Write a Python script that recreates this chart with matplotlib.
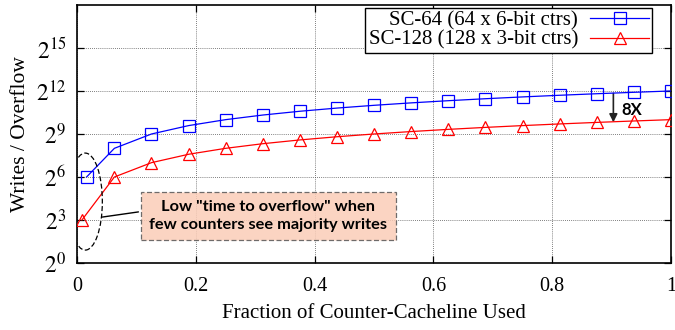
import matplotlib
matplotlib.use("Agg")
import matplotlib.pyplot as plt
from matplotlib.patches import Ellipse

# data (writes per overflow vs fraction of cacheline used)
sc64_x = [0.015625, 0.0625, 0.125, 0.1875, 0.25, 0.3125, 0.375, 0.4375, 0.5,
          0.5625, 0.625, 0.6875, 0.75, 0.8125, 0.875, 0.9375, 1.0]
sc64_y = [64, 256, 512, 768, 1024, 1280, 1536, 1792, 2048,
          2304, 2560, 2816, 3072, 3328, 3584, 3840, 4096]
sc128_x = [0.0078125, 0.0625, 0.125, 0.1875, 0.25, 0.3125, 0.375, 0.4375, 0.5,
           0.5625, 0.625, 0.6875, 0.75, 0.8125, 0.875, 0.9375, 1.0]
sc128_y = [8, 64, 128, 192, 256, 320, 384, 448, 512,
           576, 640, 704, 768, 832, 896, 960, 1024]
series_names = ["SC-64 (64 x 6-bit ctrs)", "SC-128 (128 x 3-bit ctrs)"]
x_ticks = [0, 0.2, 0.4, 0.6, 0.8, 1.0]
x_tick_labels = ["0", "0.2", "0.4", "0.6", "0.8", "1"]
y_exps = [0, 3, 6, 9, 12, 15]

plt.rcParams["font.family"] = ["Liberation Serif", "DejaVu Serif"]
plt.rcParams["mathtext.fontset"] = "stix"
plt.rcParams["font.size"] = 15

fig = plt.figure(figsize=(6.75, 3.3), dpi=100)
ax = fig.add_axes([0.1145, 0.203, 0.8795, 0.782])

ax.plot(sc64_x, sc64_y, color="#0000ff", lw=0.9, marker="s", ms=8.5, mfc="none",
        mec="#0000ff", mew=0.9, label=series_names[0], zorder=4)
ax.plot(sc128_x, sc128_y, color="#ff0000", lw=0.9, marker="^", ms=8.5, mfc="none",
        mec="#ff0000", mew=0.9, label=series_names[1], zorder=4)

ax.set_yscale("log", base=2)
ax.set_ylim(1, 2 ** 18)
ax.set_xlim(0, 1)
ax.set_yticks([2 ** e for e in y_exps])
ax.set_yticklabels(["$2^{%d}$" % e for e in y_exps], fontsize=17)
ax.yaxis.set_minor_locator(matplotlib.ticker.NullLocator())
ax.set_xticks(x_ticks)
ax.set_xticklabels(x_tick_labels, fontsize=14.5)
ax.tick_params(direction="in", top=True, right=True, length=5, width=0.9)
ax.tick_params(axis="x", pad=10)
ax.tick_params(axis="y", pad=8)
ax.grid(True, color="#555555", ls=(0, (1, 1.5)), lw=0.6)
for sp in ax.spines.values():
    sp.set_linewidth(1.2)

ax.set_xlabel("Fraction of Counter-Cacheline Used", fontsize=15, labelpad=6)
ax.set_ylabel("Writes / Overflow", fontsize=15.5, labelpad=4)

leg = ax.legend(loc="upper right", bbox_to_anchor=(0.968, 0.99), borderaxespad=0,
                markerfirst=False, fancybox=False, edgecolor="black", framealpha=1,
                handlelength=2.8, borderpad=0.15, labelspacing=0.0, handletextpad=0.6,
                fontsize=15)
leg.get_frame().set_linewidth(1.0)

# annotation: ellipse around the first points + note box
ell = Ellipse((0.0135, 0.238), 0.0574, 0.376, transform=ax.transAxes, fill=False,
              ls=(0, (4, 2)), lw=0.9, color="black", zorder=5)
ax.add_patch(ell)
ax.annotate("", xy=(0.103, 0.198), xytext=(0.042, 0.178), xycoords="axes fraction",
            arrowprops=dict(arrowstyle="-", color="black", lw=1.0, shrinkA=0, shrinkB=0))
ax.text(0.322, 0.182, 'Low "time to overflow" when\nfew counters see majority writes',
        transform=ax.transAxes, ha="center", va="center", fontsize=11.8,
        fontweight="bold", family=["Lato", "DejaVu Sans"], linespacing=1.3,
        bbox=dict(boxstyle="square,pad=0.5", fc="#fbcdb8", ec="#555555", alpha=0.85,
                  ls=(0, (4, 2)), lw=0.9), zorder=3)

# 8X gap arrow
ax.annotate("", xy=(0.903, 900), xytext=(0.903, 3650),
            arrowprops=dict(arrowstyle="-|>", color="#222222", lw=1.2, mutation_scale=12,
                            shrinkA=0, shrinkB=0))
ax.text(0.916, 1640, "8X", fontsize=12, fontweight="bold",
        family=["Lato", "DejaVu Sans"], va="center", ha="left")

fig.savefig("out.png", dpi=100)
